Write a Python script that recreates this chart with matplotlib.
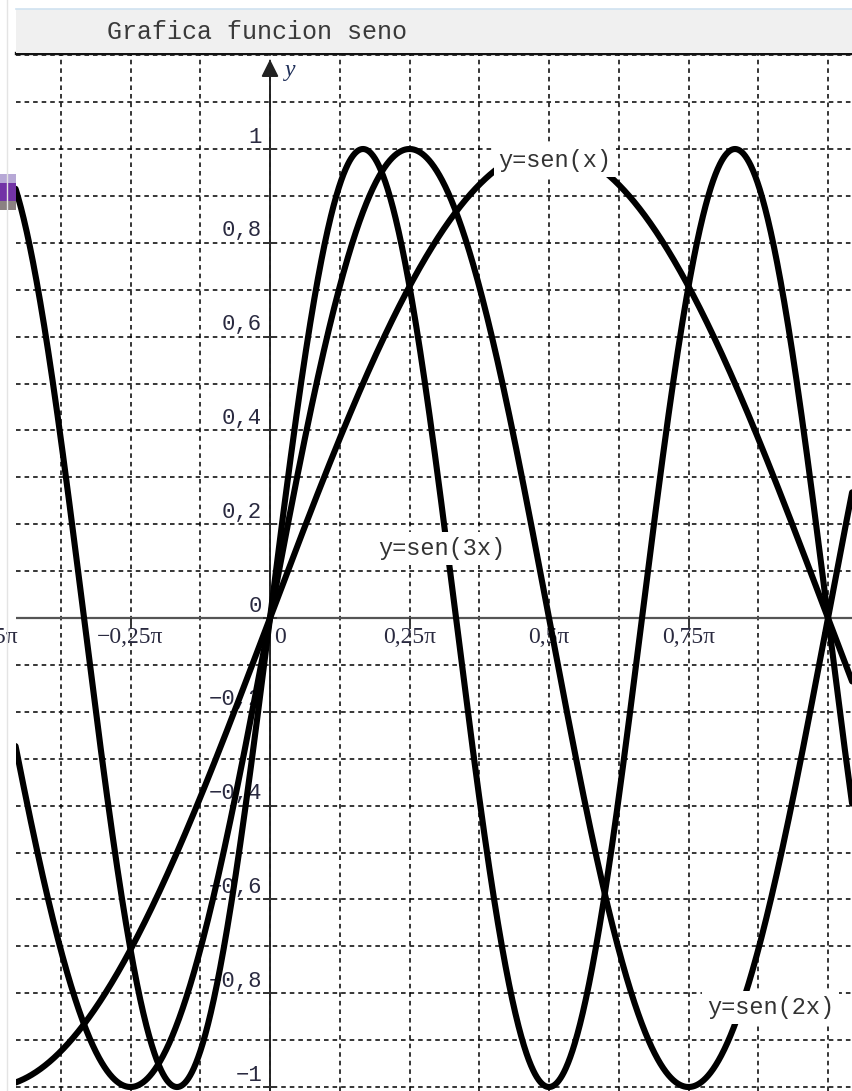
import numpy as np
import matplotlib.pyplot as plt
from matplotlib.patches import Rectangle
from matplotlib.lines import Line2D

# frecuencias de las curvas y=sen(kx)
freqs = [1, 2, 3]
curve_names = ['y=sen(x)', 'y=sen(2x)', 'y=sen(3x)']

# ticks del eje x (en multiplos de pi) y del eje y
xtick_vals = [-0.5, -0.25, 0, 0.25, 0.5, 0.75, 1.0]
xtick_labels = ['\u22120,5\u03c0', '\u22120,25\u03c0', '0', '0,25\u03c0', '0,5\u03c0', '0,75\u03c0', '\u03c0']
ytick_vals = [1, 0.8, 0.6, 0.4, 0.2, 0, -0.2, -0.4, -0.6, -0.8, -1]
ytick_labels = ['1', '0,8', '0,6', '0,4', '0,2', '0', '\u22120,2', '\u22120,4', '\u22120,6', '\u22120,8', '\u22121']

title = 'Grafica funcion seno'

W, H = 852, 1091
fig = plt.figure(figsize=(W / 100, H / 100), dpi=100)
fig.patch.set_facecolor('white')

# barra de titulo y bordes de la ventana
fig.patches.append(Rectangle((16 / W, 1 - 53 / H), 1 - 16 / W, 44 / H, transform=fig.transFigure,
                             facecolor='#f0f0f0', edgecolor='none', zorder=0))
fig.lines.append(Line2D([16 / W, 1], [1 - 9 / H, 1 - 9 / H], transform=fig.transFigure, color='#cfe2f0', lw=1.2))
fig.lines.append(Line2D([7 / W, 7 / W], [0, 1], transform=fig.transFigure, color='#e4e4e4', lw=1))
fig.patches.append(Rectangle((0, 1 - 183 / H), 16 / W, 9 / H, transform=fig.transFigure, facecolor='#b7a8d6', edgecolor='none'))
fig.patches.append(Rectangle((0, 1 - 201 / H), 16 / W, 18 / H, transform=fig.transFigure, facecolor='#7233a6', edgecolor='none'))
fig.patches.append(Rectangle((0, 1 - 210 / H), 16 / W, 9 / H, transform=fig.transFigure, facecolor='#8b8182', edgecolor='none'))
fig.text(107 / W, 1 - 32 / H, title, family=['Liberation Mono', 'DejaVu Sans Mono'], fontsize=18,
         color='#3a3a3a', va='center', ha='left')

ax = fig.add_axes([16 / W, 0, 1 - 16 / W, (H - 53) / H])
pi = np.pi

# rejilla punteada
ax.set_xticks(np.arange(-4, 9) * pi / 8)
ax.set_yticks(np.round(np.arange(-10, 13) * 0.1, 2))
ax.set_xlim(-0.4552 * pi, 1.043 * pi)
ax.set_ylim(-1.0085, 1.2047)
ax.tick_params(length=0, labelbottom=False, labelleft=False)
ax.grid(True, color='black', lw=1.1, linestyle=(0, (3, 2.6)), zorder=1)
ax.set_axisbelow(True)
for s in ['left', 'right', 'bottom']:
    ax.spines[s].set_visible(False)
ax.spines['top'].set_linewidth(2.4)
ax.spines['top'].set_color('#111111')

# ejes
ax.axhline(0, color='#555555', lw=1.6, zorder=2)
ax.annotate('', xy=(0, 1.197), xytext=(0, -1.02),
            arrowprops=dict(arrowstyle='-|>', color='#222222', lw=1.4, mutation_scale=26), zorder=2)
ax.text(0.036 * pi, 1.168, 'y', family='Liberation Serif', style='italic', fontsize=17,
        color='#20305a', ha='center', va='center', zorder=2)
ax.plot(np.array(xtick_vals) * pi, np.zeros(len(xtick_vals)), ls='none', marker=3, ms=5, mew=1.4,
        color='#333333', zorder=2)
ax.plot(np.zeros(len(ytick_vals)), ytick_vals, ls='none', marker='_', ms=10, mew=1.4,
        color='#333333', zorder=2)

# etiquetas de los ticks (por debajo de las curvas)
lab_col = '#2a2a40'
for v, t in zip(xtick_vals, xtick_labels):
    dx = 10 if v == 0 else 0
    ax.annotate(t, xy=(v * pi, 0), xytext=(dx, -19), textcoords='offset pixels',
                family=['Liberation Serif', 'DejaVu Serif'], fontsize=17, color=lab_col,
                ha='center', va='center', zorder=2, annotation_clip=False)
for v, t in zip(ytick_vals, ytick_labels):
    ax.annotate(t, xy=(0, v), xytext=(-8, 12), textcoords='offset pixels',
                family=['Liberation Mono', 'DejaVu Sans Mono'], fontsize=16, color=lab_col,
                ha='right', va='center', zorder=2)

# curvas
x = np.linspace(-0.5 * pi, 1.1 * pi, 2000)
for k in freqs:
    ax.plot(x, np.sin(k * x), color='black', lw=4.4, solid_capstyle='round', zorder=3)

# etiquetas de las curvas
label_pos = {'y=sen(x)': (0.409, 0.975), 'y=sen(2x)': (0.783, -0.83), 'y=sen(3x)': (0.194, 0.148)}
for name in curve_names:
    px, py = label_pos[name]
    ax.text(px * pi, py, name, family=['Liberation Mono', 'DejaVu Sans Mono'], fontsize=17,
            color='#333333', ha='left', va='center', zorder=4,
            bbox=dict(boxstyle='square,pad=0.2', facecolor='white', edgecolor='none'))

fig.savefig('out.png', dpi=100)
